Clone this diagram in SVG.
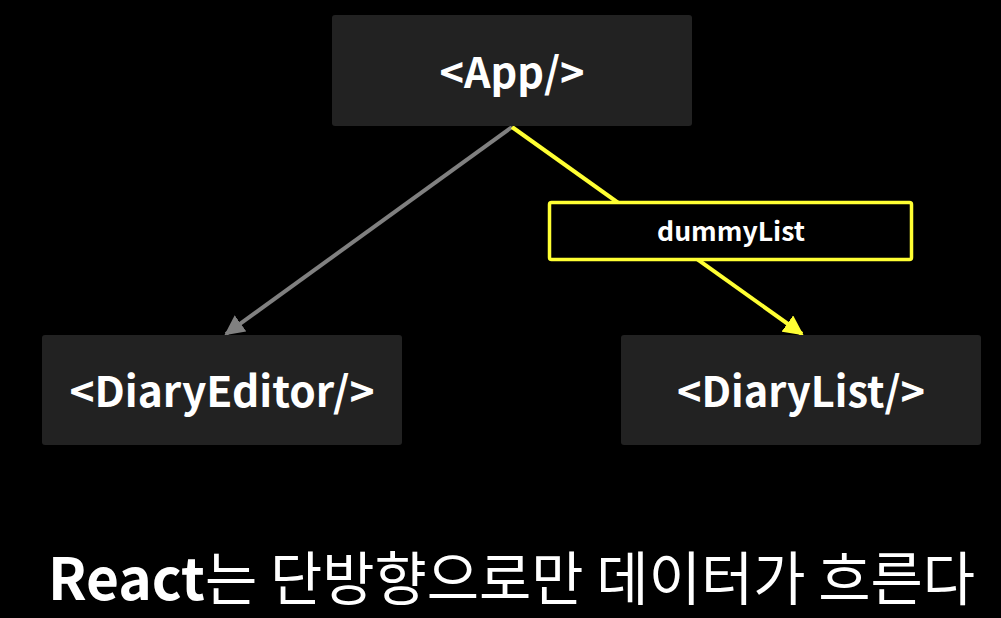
<svg xmlns="http://www.w3.org/2000/svg" width="1001" height="618" viewBox="0 0 1001 618">
<style>
.node{fill:#222222;}
.nt{font-family:"Noto Sans CJK KR","Noto Sans",sans-serif;font-weight:bold;font-size:42px;fill:#ffffff;text-anchor:middle;}
.lbl{font-family:"Noto Sans CJK KR","Noto Sans",sans-serif;font-weight:bold;font-size:26px;fill:#ffffff;text-anchor:middle;}
</style>
<defs>
<marker id="ag" viewBox="0 0 10 10" refX="9" refY="5" markerWidth="5" markerHeight="5" orient="auto" markerUnits="strokeWidth"><path d="M0,0 L10,5 L0,10 z" fill="#808080"/></marker>
<marker id="ay" viewBox="0 0 10 10" refX="9" refY="5" markerWidth="5" markerHeight="5" orient="auto" markerUnits="strokeWidth"><path d="M0,0 L10,5 L0,10 z" fill="#ffff33"/></marker>
</defs>
<rect width="1001" height="618" fill="#000000"/>
<g id="connectors">
<line x1="512" y1="127" x2="226" y2="334" stroke="#808080" stroke-width="4" marker-end="url(#ag)"/>
<line x1="512" y1="127" x2="802" y2="334" stroke="#ffff33" stroke-width="4" marker-end="url(#ay)"/>
<g id="label-dummyList">
<rect x="549.5" y="202.5" width="362" height="57" rx="2" fill="#000000" stroke="#ffff33" stroke-width="3.5"/>
<text class="lbl" x="731" y="241" textLength="148" lengthAdjust="spacingAndGlyphs">dummyList</text>
</g>
</g>
<g id="app">
<rect class="node" x="332" y="15" width="360" height="111" rx="3"/>
<text class="nt" x="512" y="88" textLength="145" lengthAdjust="spacingAndGlyphs">&lt;App/&gt;</text>
</g>
<g id="diaryEditor">
<rect class="node" x="42" y="335" width="360" height="110" rx="3"/>
<text class="nt" x="222" y="407" textLength="305" lengthAdjust="spacingAndGlyphs">&lt;DiaryEditor/&gt;</text>
</g>
<g id="diaryList">
<rect class="node" x="621" y="335" width="360" height="110" rx="3"/>
<text class="nt" x="801" y="407" textLength="248" lengthAdjust="spacingAndGlyphs">&lt;DiaryList/&gt;</text>
</g>
<text x="48" y="600" font-family="Noto Sans CJK KR,sans-serif" font-size="58" fill="#ffffff" textLength="927" lengthAdjust="spacingAndGlyphs"><tspan font-weight="bold">React</tspan>는 단방향으로만 데이터가 흐른다</text>
</svg>
